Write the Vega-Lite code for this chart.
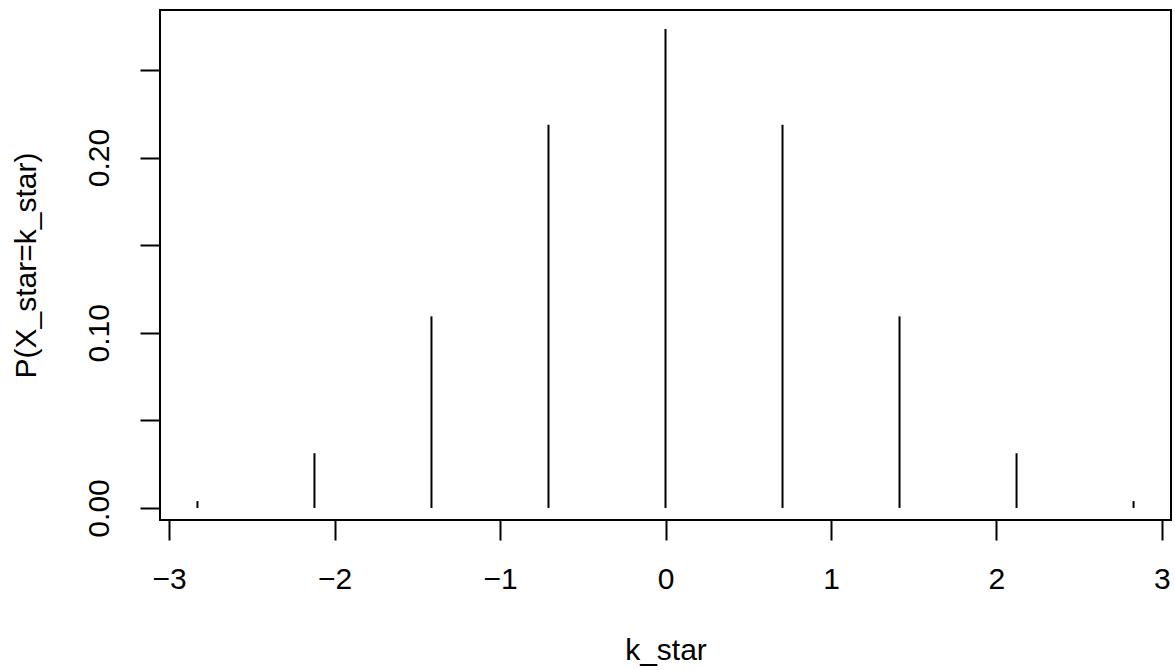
{
  "$schema": "https://vega.github.io/schema/vega-lite/v6.json",
  "width": 1011,
  "height": 510,
  "autosize": {"type": "none"},
  "padding": {"left": 160, "top": 10, "right": 4, "bottom": 150},
  "background": "white",
  "config": {
    "view": {"stroke": "black", "strokeWidth": 2},
    "font": "Liberation Sans",
    "axis": {
      "domain": false,
      "grid": false,
      "ticks": true,
      "tickColor": "black",
      "tickWidth": 2,
      "tickSize": 20,
      "labelColor": "black",
      "labelFont": "Liberation Sans",
      "labelFontSize": 30,
      "labelOverlap": false,
      "labelFlush": false,
      "titleColor": "black",
      "titleFont": "Liberation Sans",
      "titleFontSize": 30,
      "titleFontWeight": "normal"
    }
  },
  "data": {
    "values": [
      {"k_star": -2.8284271, "p": 0.00390625},
      {"k_star": -2.1213203, "p": 0.03125},
      {"k_star": -1.4142136, "p": 0.109375},
      {"k_star": -0.7071068, "p": 0.21875},
      {"k_star": 0, "p": 0.2734375},
      {"k_star": 0.7071068, "p": 0.21875},
      {"k_star": 1.4142136, "p": 0.109375},
      {"k_star": 2.1213203, "p": 0.03125},
      {"k_star": 2.8284271, "p": 0.00390625}
    ]
  },
  "mark": {"type": "rule", "color": "black", "strokeWidth": 2},
  "encoding": {
    "x": {
      "field": "k_star",
      "type": "quantitative",
      "scale": {"domain": [-3.0547, 3.0547], "nice": false, "zero": false},
      "axis": {
        "title": "k_star",
        "values": [-3, -2, -1, 0, 1, 2, 3],
        "format": "d",
        "labelPadding": 24,
        "labelBaseline": "top",
        "titleBaseline": "alphabetic",
        "titleY": 139
      }
    },
    "y": {
      "field": "p",
      "type": "quantitative",
      "scale": {"domain": [-0.006875, 0.28421875], "nice": false, "zero": false},
      "axis": {
        "title": "P(X_star=k_star)",
        "values": [0, 0.05, 0.1, 0.15, 0.2, 0.25],
        "format": ".2f",
        "labelExpr": "indexof(['0.00','0.10','0.20'], datum.label) >= 0 ? datum.label : ''",
        "labelAngle": 270,
        "labelAlign": "center",
        "labelBaseline": "bottom",
        "labelPadding": 26,
        "titleAngle": 270,
        "titleAlign": "center",
        "titleBaseline": "alphabetic",
        "titleX": -125,
        "titleY": 255
      }
    },
    "y2": {"datum": 0}
  }
}
